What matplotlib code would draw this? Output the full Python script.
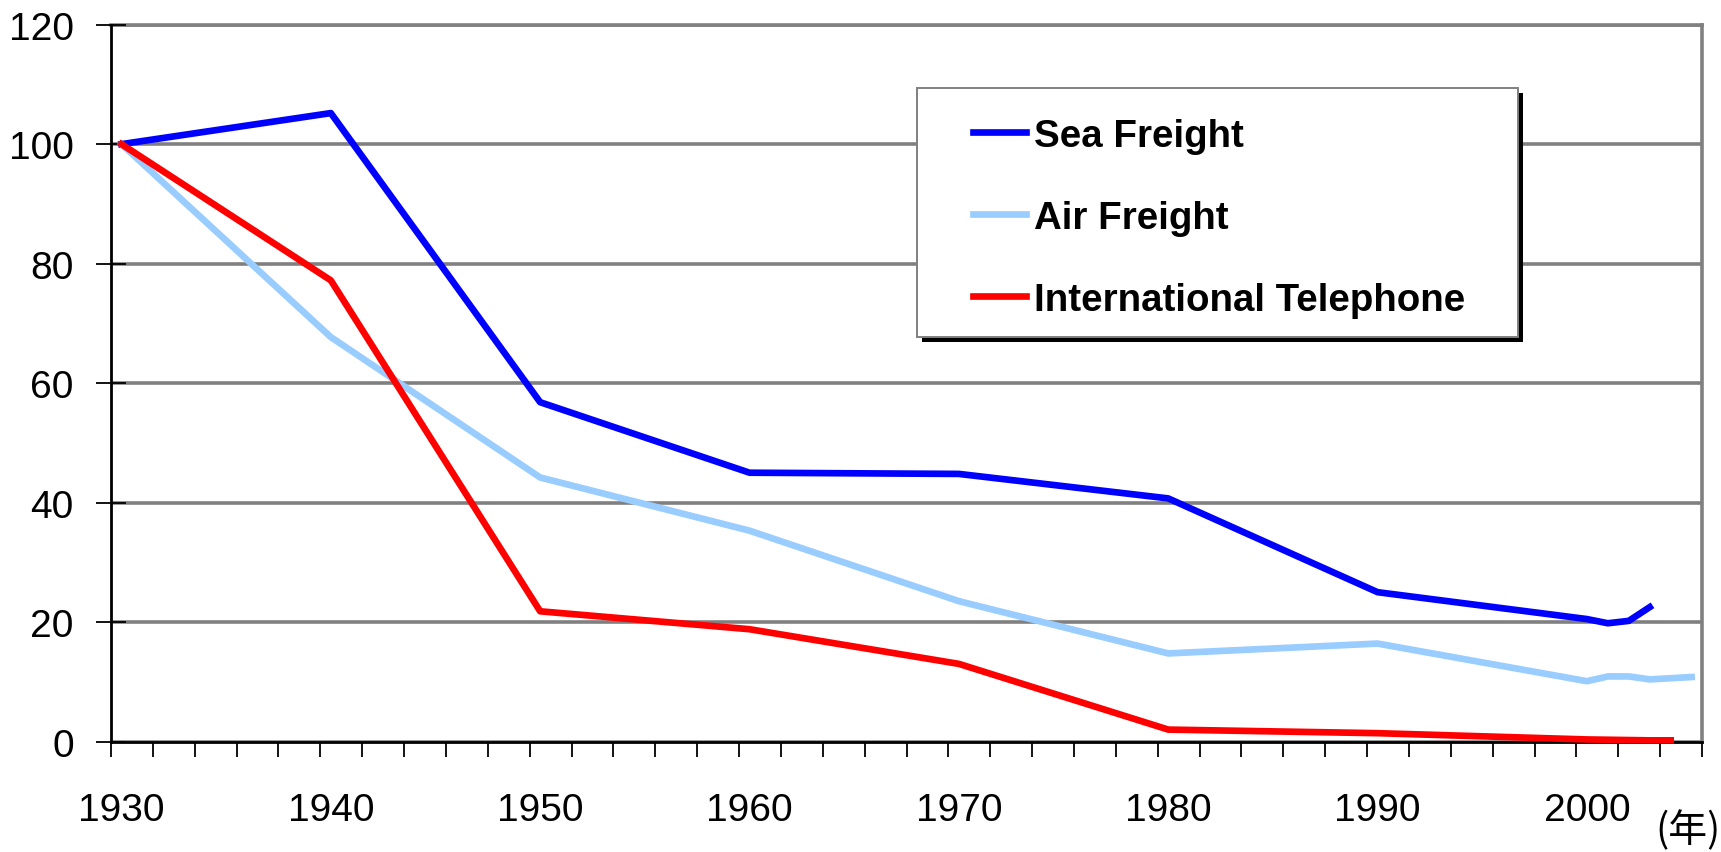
import matplotlib
matplotlib.use("Agg")
import matplotlib.pyplot as plt
from matplotlib.patches import Rectangle
from matplotlib.transforms import offset_copy

plt.rcParams['font.family'] = ['Liberation Sans', 'DejaVu Sans']

# Data (index, 1930 = 100)
years_sea = [1930, 1940, 1950, 1960, 1970, 1980, 1990, 2000, 2001, 2002, 2003]
sea = [100, 105.2, 56.8, 45.0, 44.8, 40.7, 25.0, 20.5, 19.8, 20.2, 22.5]

years_air = [1930, 1940, 1950, 1960, 1970, 1980, 1990, 2000, 2001, 2002, 2003, 2004, 2005]
air = [100, 67.7, 44.2, 35.3, 23.5, 14.75, 16.4, 10.1, 10.9, 10.9, 10.4, 10.6, 10.8]

years_tel = [1930, 1940, 1950, 1960, 1970, 1980, 1990, 2000, 2001, 2002, 2003, 2004]
tel = [100, 77.2, 21.8, 18.8, 13.0, 2.0, 1.4, 0.35, 0.3, 0.25, 0.2, 0.2]

decades = [1930, 1940, 1950, 1960, 1970, 1980, 1990, 2000]

fig = plt.figure(figsize=(17.21, 8.53), dpi=100)
ax = fig.add_axes([0.0645, 0.1295, 0.9245, 0.8404])

ax.plot(years_sea, sea, color="#0000FF", lw=4.8, label="Sea Freight",
        zorder=3, clip_on=False)
ax.plot(years_air, air, color="#99CCFF", lw=4.8, label="Air Freight",
        zorder=3, clip_on=False)
ax.plot(years_tel, tel, color="#FF0000", lw=4.8, label="International Telephone",
        zorder=3, clip_on=False)

# category style axis: 1930..2005, one slot per year
ax.set_xlim(1929.5, 2005.5)
ax.set_ylim(0, 120)

ax.set_xticks([1929.5 + 2 * k for k in range(39)])
ax.set_xticklabels([])
ax.set_xticks(decades, [str(d) for d in decades], minor=True)
ax.tick_params(axis="x", which="major", direction="out", length=10.8, width=1.3, color="black")
ax.tick_params(axis="x", which="minor", length=0, pad=36.5, labelsize=28)

ax.set_yticks(range(0, 121, 20))
ax.tick_params(axis="y", direction="inout", length=21.6, width=1.3, pad=16, labelsize=28)

ax.grid(axis="y", color="#808080", lw=2.6)

ax.spines["left"].set_linewidth(2.0)
ax.spines["bottom"].set_linewidth(2.0)
for s in ["top", "right"]:
    ax.spines[s].set_color("#808080")
    ax.spines[s].set_linewidth(2.6)
    ax.spines[s].set_zorder(1)

# legend box with shadow
bx0, by0, bw, bh = 0.5066, 0.564, 0.3774, 0.347
shadow = Rectangle((bx0, by0), bw, bh, transform=offset_copy(ax.transAxes, fig=fig, x=5, y=-5, units="dots"),
                   facecolor="black", edgecolor="none", zorder=4, clip_on=False)
box = Rectangle((bx0, by0), bw, bh, transform=ax.transAxes, facecolor="white",
                edgecolor="#808080", lw=1.4, zorder=5, clip_on=False)
ax.add_patch(shadow)
ax.add_patch(box)

leg = ax.legend(loc="upper left", bbox_to_anchor=(0.5415, 0.8705), frameon=False,
                prop={"weight": "bold", "size": 27.7}, handlelength=1.4, handletextpad=0.2,
                labelspacing=1.2, borderpad=0, borderaxespad=0)
leg.set_zorder(6)

fig.text(1.0, 0.002, "(年)", ha="right", va="bottom", fontsize=28,
         family=["Noto Sans CJK JP", "DejaVu Sans"])

fig.savefig("out.png", dpi=100)
